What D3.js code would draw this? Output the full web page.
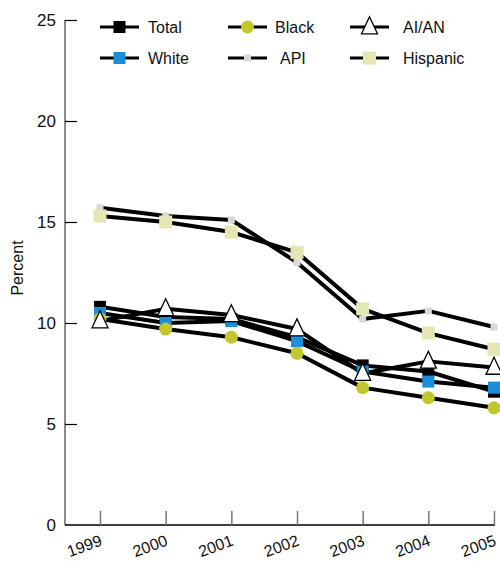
<!DOCTYPE html>
<html><head><meta charset="utf-8">
<script src="https://cdn.jsdelivr.net/npm/d3@7"></script>
<style>body{margin:0;background:#fff}svg{display:block}text{font-family:"Liberation Sans",Arial,sans-serif}</style>
</head><body>
<svg id="c" width="500" height="563"></svg>
<script>
const years = [1999, 2000, 2001, 2002, 2003, 2004, 2005];
const yTicks = [0, 5, 10, 15, 20, 25];
const total    = [10.8, 10.3, 10.2, 9.3, 7.9, 7.6, 6.6];
const white    = [10.5, 10.0, 10.1, 9.1, 7.6, 7.1, 6.8];
const black    = [10.2, 9.7, 9.3, 8.5, 6.8, 6.3, 5.8];
const aian     = [10.1, 10.7, 10.4, 9.7, 7.5, 8.1, 7.8];
const api      = [15.7, 15.3, 15.1, 13.0, 10.2, 10.6, 9.8];
const hispanic = [15.3, 15.0, 14.5, 13.5, 10.7, 9.5, 8.7];

const series = [
  {name:"Total", values: total, shape:"square", size:12, fill:"#000000"},
  {name:"White", values: white, shape:"square", size:12, fill:"#1a8ed8"},
  {name:"Black", values: black, shape:"circle", size:13, fill:"#c2c82c"},
  {name:"AI/AN", values: aian, shape:"triangle", size:16, fill:"#ffffff"},
  {name:"API", values: api, shape:"square", size:7, fill:"#d9d9d9"},
  {name:"Hispanic", values: hispanic, shape:"square", size:13, fill:"#e4e7b4"}
];

const svg = d3.select("#c");
const x = d3.scaleLinear().domain([1999, 2005]).range([100, 494]);
const y = d3.scaleLinear().domain([0, 25]).range([525, 20]);

// y axis
const yAxis = svg.append("g").attr("transform","translate(65,0)")
  .call(d3.axisRight(y).tickValues(yTicks.filter(d=>d>0)).tickSize(12).tickFormat(""));
yAxis.select(".domain").attr("stroke","#8a8a8a").attr("stroke-width",2).attr("d","M0,20V525");
yAxis.selectAll(".tick line").attr("stroke","#000").attr("stroke-width",1.2);
svg.append("g").selectAll("text").data(yTicks).join("text")
  .attr("x",56).attr("y",d=>y(d)+6).attr("text-anchor","end")
  .attr("font-size",17).attr("fill","#111").text(d=>d);
svg.append("text").attr("transform","translate(23,268) rotate(-90)")
  .attr("text-anchor","middle").attr("font-size",16).attr("fill","#111").text("Percent");

// x axis
const xAxis = svg.append("g").attr("transform","translate(0,525)")
  .call(d3.axisTop(x).tickValues(years).tickSize(14).tickFormat(""));
xAxis.select(".domain").attr("stroke","#000").attr("stroke-width",1.5).attr("d","M65,0H495");
xAxis.selectAll(".tick line").attr("stroke","#777").attr("stroke-width",1.5);
svg.append("g").selectAll("text").data(years).join("text")
  .attr("transform",d=>`translate(${x(d)+3},545) rotate(-20)`)
  .attr("text-anchor","end").attr("font-size",16).attr("fill","#111").text(d=>d);

function marker(g, s, cx, cy){
  if(s.shape==="square"){
    g.append("rect").attr("x",cx-s.size/2).attr("y",cy-s.size/2)
      .attr("width",s.size).attr("height",s.size).attr("fill",s.fill);
  } else if(s.shape==="circle"){
    g.append("circle").attr("cx",cx).attr("cy",cy).attr("r",s.size/2).attr("fill",s.fill);
  } else {
    const w=s.size, h=17;
    g.append("path").attr("d",`M${cx},${cy-h*0.6}L${cx+w/2},${cy+h*0.4}L${cx-w/2},${cy+h*0.4}Z`)
      .attr("fill","#fff").attr("stroke","#000").attr("stroke-width",1.3);
  }
}

const line = d3.line().x((d,i)=>x(years[i])).y(d=>y(d));
const lg = svg.append("g");
series.forEach(s=>{
  lg.append("path").attr("d",line(s.values)).attr("fill","none")
    .attr("stroke","#000").attr("stroke-width",4).attr("stroke-linejoin","round");
});
const mg = svg.append("g");
series.forEach(s=>{
  s.values.forEach((v,i)=>marker(mg, s, x(years[i]), y(v)));
});

// legend
const legPos = [
  {lx:100, tx:148, y:27},
  {lx:100, tx:148, y:58},
  {lx:228, tx:275, y:27},
  {lx:228, tx:280, y:58},
  {lx:350, tx:403, y:27},
  {lx:350, tx:403, y:58}
];
const legOrder = ["Total","White","Black","API","AI/AN","Hispanic"];
const leg = svg.append("g");
legOrder.forEach((nm,k)=>{
  const s = series.find(d=>d.name===nm), p = legPos[k];
  leg.append("line").attr("x1",p.lx).attr("x2",p.lx+39).attr("y1",p.y).attr("y2",p.y)
    .attr("stroke","#000").attr("stroke-width",3);
  marker(leg, s, p.lx+19.5, p.y);
  leg.append("text").attr("x",p.tx).attr("y",p.y+6).attr("font-size",16).attr("fill","#111").text(nm);
});
</script>
</body></html>
